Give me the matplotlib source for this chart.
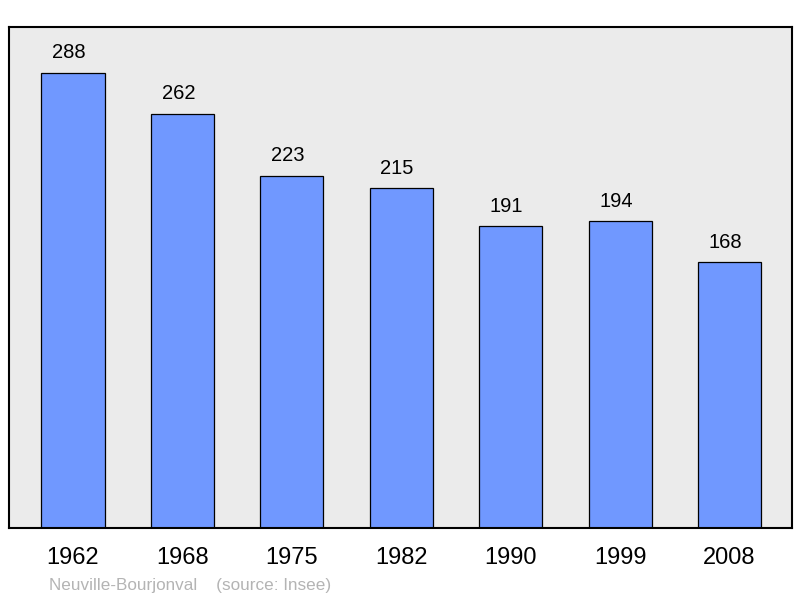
import matplotlib
matplotlib.use("Agg")
import numpy as np
import matplotlib.pyplot as plt

plt.rcParams['font.family'] = ['Liberation Sans', 'DejaVu Sans']

years = ["1962", "1968", "1975", "1982", "1990", "1999", "2008"]
population = [288, 262, 223, 215, 191, 194, 168]

fig = plt.figure(figsize=(8, 5.98), dpi=100)
ax = fig.add_axes([9 / 800, 70 / 598, 783 / 800, 501 / 598])
ax.set_facecolor('#ebebeb')

x = np.arange(len(years))
bars = ax.bar(x, population, width=0.576, color='#7098ff',
              edgecolor='black', linewidth=0.9, zorder=2)

for xi, v in zip(x, population):
    ax.annotate(str(v), (xi, v), xytext=(-3, 10.5), textcoords='offset points',
                ha='center', va='baseline', fontsize=14.5)

ax.set_xlim(-0.585, 6.571)
ax.set_ylim(0, 317)
ax.set_yticks([])
ax.set_xticks(x)
ax.set_xticklabels(years, fontsize=17)
ax.tick_params(axis='x', length=0, pad=14)
for s in ax.spines.values():
    s.set_linewidth(1.5)
    s.set_color('black')

fig.text(49 / 800, 8 / 598, "Neuville-Bourjonval    (source: Insee)",
         fontsize=12.3, color='#b4b4b4', va='baseline', ha='left')

fig.savefig("out.png", dpi=100)
